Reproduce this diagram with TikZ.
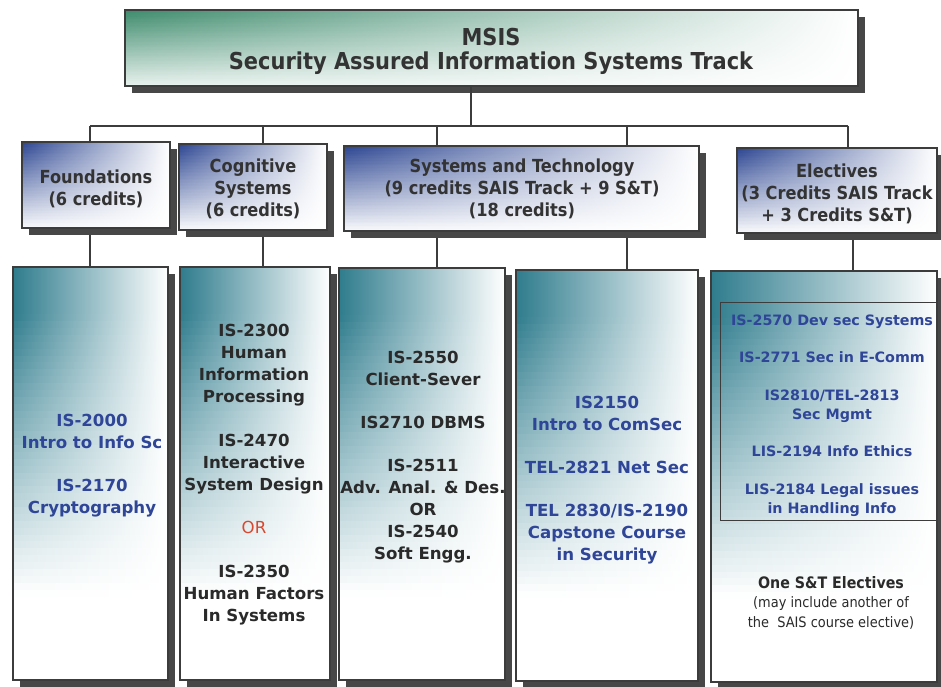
\documentclass[tikz,border=0pt]{standalone}
\usepackage{fontspec}
\setmainfont{DejaVu Sans}
\newfontfamily\cond{DejaVu Sans Condensed}
\usetikzlibrary{shadows,calc}
\definecolor{tealA}{HTML}{2F7C8D}
\definecolor{blueA}{HTML}{28428F}
\definecolor{greenA}{HTML}{3A896A}
\definecolor{lineC}{HTML}{3C3C3C}
\definecolor{textC}{HTML}{2A2A2A}
\definecolor{headC}{HTML}{333333}
\definecolor{blueT}{HTML}{2F4597}
\definecolor{orC}{HTML}{D9472F}
\tikzset{
  boxbase/.style={draw=lineC, line width=1.2pt, inner sep=0pt, outer sep=0pt,
    anchor=north west, fill=white,
    drop shadow={shadow xshift=7pt, shadow yshift=-7pt, fill=black!72, opacity=1, draw=none}},
  % #1 colour, #2 v where vertical fade starts, #3 v where it ends, #4 strength at mid-width
  grad/.style n args={4}{path picture={
    \pgfpointanchor{path picture bounding box}{north west}\pgfgetlastxy{\gax}{\gay}
    \pgfpointanchor{path picture bounding box}{south east}\pgfgetlastxy{\gbx}{\gby}
    \pgfmathsetmacro\gstep{(\gay-\gby)/60}
    \foreach \i in {0,...,59}{
      \pgfmathsetmacro\vv{(\i+0.5)/60}
      \pgfmathtruncatemacro\gint{100*max(0,min(1,(#3-\vv)/(#3-#2)))}
      \pgfmathtruncatemacro\gmid{\gint*#4}
      \pgfmathsetmacro\ya{\gay-\gstep*\i+0.4}
      \pgfmathsetmacro\yb{\gay-\gstep*(\i+1)-0.4}
      \shade[left color=#1!\gint!white, middle color=#1!\gmid!white, right color=white]
        (\gax,\ya pt) rectangle (\gbx,\yb pt);
    }}},
  topbox/.style={boxbase, grad={greenA}{0.0}{1.15}{0.35}},
  headbox/.style={boxbase, grad={blueA}{0.0}{1.05}{0.42}},
  colbox/.style={boxbase, grad={tealA}{0.12}{0.8}{0.52}},
  innerbox/.style={draw=lineC, line width=1pt, inner sep=0pt, outer sep=0pt, anchor=north west},
  ttxt/.style={font=\cond\bfseries\fontsize{23.3}{24}\selectfont, text=headC, align=center, inner sep=0pt, anchor=base},
  htxt/.style={font=\cond\bfseries\fontsize{18}{22}\selectfont, text=headC, align=center, inner sep=0pt, anchor=base},
  btxt/.style={font=\bfseries\fontsize{16.6}{22}\selectfont, align=center, inner sep=0pt, anchor=base},
  etxt/.style={font=\bfseries\fontsize{14.3}{18.8}\selectfont, align=center, inner sep=0pt, anchor=base, text=blueT},
  ntxt/.style={font=\cond\fontsize{14.4}{19.5}\selectfont, align=center, inner sep=0pt, anchor=base, text=textC},
  conn/.style={draw=lineC, line width=2pt}
}
\begin{document}
\begin{tikzpicture}[x=1pt,y=-1pt]
\useasboundingbox (0,0) rectangle (941,687);
\fill[white] (0,0) rectangle (941,687);

\coordinate (d0) at (471,126);
\coordinate (d1) at (90,126);
\coordinate (d2) at (263,126);
\coordinate (d3) at (437,126);
\coordinate (d4) at (627,126);
\coordinate (d5) at (848,126);

% title and category boxes
\node[topbox, minimum width=733pt, minimum height=76pt] (top) at (125,10) {};
\node[headbox, minimum width=148pt, minimum height=86pt] (f) at (22,142) {};
\node[headbox, minimum width=148pt, minimum height=86pt] (cog) at (179,144) {};
\node[headbox, minimum width=355pt, minimum height=85pt] (sys) at (344,146) {};
\node[headbox, minimum width=200pt, minimum height=85pt] (elec) at (737,148) {};

% connectors
\draw[conn] (d0 |- top.south) -- (d0);
\draw[conn] (d1) -- (d5);
\draw[conn] (d1) -- (d1 |- f.north);
\draw[conn] (d2) -- (d2 |- cog.north);
\draw[conn] (d3) -- (d3 |- sys.north);
\draw[conn] (d4) -- (d4 |- sys.north);
\draw[conn] (d5) -- (d5 |- elec.north);

% course boxes
\node[colbox, minimum width=155pt, minimum height=413pt] (fb) at (13,267) {};
\node[colbox, minimum width=150pt, minimum height=413pt] (cb) at (180,267) {};
\node[colbox, minimum width=166pt, minimum height=412pt] (s1) at (339,268) {};
\node[colbox, minimum width=182pt, minimum height=411pt] (s2) at (516,270) {};
\node[colbox, minimum width=226pt, minimum height=411pt] (eb) at (711,271) {};
\node[innerbox, minimum width=217pt, minimum height=218pt] (ei) at (720,302) {};

\draw[conn] ([yshift=-7pt]d1 |- f.south) -- (d1 |- fb.north);
\draw[conn] ([yshift=-7pt]d2 |- cog.south) -- (d2 |- cb.north);
\draw[conn] ([yshift=-7pt]d3 |- sys.south) -- (d3 |- s1.north);
\draw[conn] ([yshift=-7pt]d4 |- sys.south) -- (d4 |- s2.north);
\draw[conn] ([xshift=5pt,yshift=-7pt]d5 |- elec.south) -- ([xshift=5pt]d5 |- eb.north);

% heading texts (anchor = baseline of last line)
\node[ttxt] (topt) at (491,70) {MSIS\\Security Assured Information Systems Track};
\node[htxt] (ft) at (96,205.5) {Foundations\\(6 credits)};
\node[htxt] (cogt) at (253,216.5) {Cognitive\\Systems\\(6 credits)};
\node[htxt] (syst) at (522,216.5) {Systems and Technology\\(9 credits SAIS Track + 9 S\&T)\\(18 credits)};
\node[htxt] (elect) at (837,221.5) {Electives\\(3 Credits SAIS Track\\+ 3 Credits S\&T)};

% course texts
\node[btxt, text=blueT] (fbt) at (92,513)
  {IS-2000\\Intro to Info Sc\\[21pt]IS-2170\\Cryptography};
\node[btxt, text=textC] (cbt) at (254,621)
  {IS-2300\\Human\\Information\\Processing\\[21.5pt]IS-2470\\Interactive\\System Design\\[21.5pt]{\mdseries\color{orC}OR}\\[21.5pt]IS-2350\\Human Factors\\In Systems};
\node[btxt, text=textC] (s1t) at (423,559)
  {IS-2550\\Client-Sever\\[21pt]IS2710 DBMS\\[21pt]IS-2511\\Adv. Anal. \& Des.\\OR\\IS-2540\\Soft Engg.};
\node[btxt, text=blueT] (s2t) at (607,560)
  {IS2150\\Intro to ComSec\\[21pt]TEL-2821 Net Sec\\[21pt]TEL 2830/IS-2190\\Capstone Course\\in Security};
\node[etxt] (eit) at (832,513)
  {IS-2570 Dev sec Systems\\[18.8pt]IS-2771 Sec in E-Comm\\[18.8pt]IS2810/TEL-2813\\Sec Mgmt\\[18.8pt]LIS-2194 Info Ethics\\[18.8pt]LIS-2184 Legal issues\\in Handling Info};
\node[ntxt] (ebt) at (831,627)
  {{\bfseries\fontsize{15.8}{19.5}\selectfont One S\&T Electives}\\(may include another of\\the\ \ SAIS course elective)};
\end{tikzpicture}
\end{document}
